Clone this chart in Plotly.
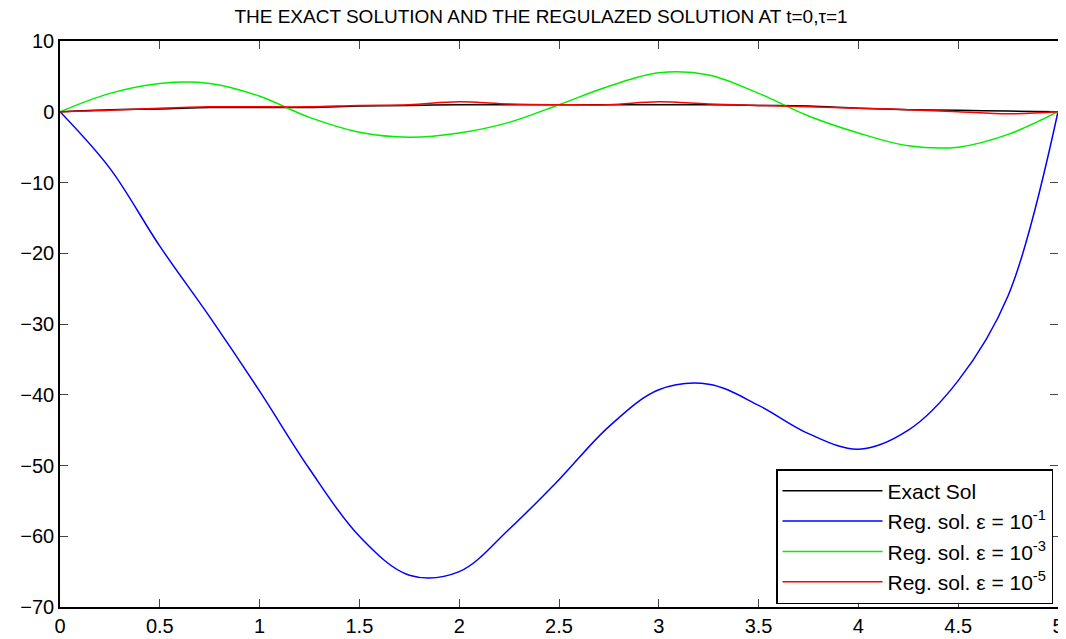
import plotly.graph_objects as go

x = [0, 0.25, 0.5, 0.75, 1.0, 1.25, 1.5, 1.75, 2.0, 2.25, 2.5, 2.75, 3.0, 3.25, 3.5, 3.75, 4.0, 4.25, 4.5, 4.75, 5.0]
exact = [0, 0.3, 0.4, 0.6, 0.6, 0.6, 0.8, 0.9, 1.0, 1.0, 1.0, 1.0, 1.0, 1.0, 0.9, 0.8, 0.5, 0.3, 0.2, 0.1, 0]
reg1 = [0, -8, -19, -29, -39.5, -50.5, -60, -65.5, -65, -59, -52, -44.5, -39.3, -38.5, -41.5, -45.5, -47.7, -45, -38, -26, 0]
reg3 = [0, 2.6, 4.0, 4.0, 2.2, -0.8, -2.9, -3.6, -3.0, -1.5, 1.0, 3.6, 5.5, 5.2, 2.6, -0.6, -3.0, -4.8, -5.0, -3.2, 0]
reg5 = [0, 0.2, 0.5, 0.7, 0.7, 0.7, 0.9, 1.0, 1.4, 1.1, 1.0, 1.0, 1.4, 1.1, 0.9, 0.7, 0.5, 0.3, 0.0, -0.3, 0]

fig = go.Figure()
fig.add_trace(go.Scatter(x=x, y=exact, mode="lines", line=dict(color="black", width=1.5, shape="spline"), name="Exact Sol"))
fig.add_trace(go.Scatter(x=x, y=reg1, mode="lines", line=dict(color="blue", width=1.5, shape="spline"), name="Reg. sol. ε = 10<sup>-1</sup>"))
fig.add_trace(go.Scatter(x=x, y=reg3, mode="lines", line=dict(color="#00ee00", width=1.5, shape="spline"), name="Reg. sol. ε = 10<sup>-3</sup>"))
fig.add_trace(go.Scatter(x=x, y=reg5, mode="lines", line=dict(color="red", width=1.5, shape="spline"), name="Reg. sol. ε = 10<sup>-5</sup>"))

axis = dict(showgrid=False, zeroline=False, showline=True, linecolor="black", linewidth=1.5,
            mirror="ticks", ticks="inside", ticklen=8, tickfont=dict(size=20, color="black"))
fig.update_layout(
    width=1066, height=639,
    paper_bgcolor="white", plot_bgcolor="white",
    font=dict(family="Liberation Sans, Arial", color="black"),
    title=dict(text="THE EXACT SOLUTION AND THE REGULAZED SOLUTION AT t=0,τ=1", x=0.5, y=0.998,
               xanchor="center", yanchor="top", font=dict(size=19)),
    margin=dict(l=52, r=10, t=33, b=28),
    xaxis=dict(range=[0, 5], tickvals=[0, 0.5, 1, 1.5, 2, 2.5, 3, 3.5, 4, 4.5, 5],
               ticktext=["0", "0.5", "1", "1.5", "2", "2.5", "3", "3.5", "4", "4.5", "5"], **axis),
    yaxis=dict(range=[-70, 10], dtick=10, **axis),
    legend=dict(x=0.995, y=0.005, xanchor="right", yanchor="bottom", bgcolor="white",
                bordercolor="black", borderwidth=1.5, font=dict(size=21), itemwidth=100,
                tracegroupgap=4),
)
fig.write_html("out.html")
